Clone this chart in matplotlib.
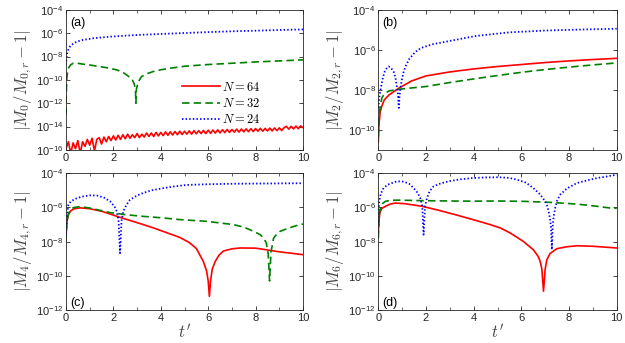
import numpy as np
import matplotlib
matplotlib.use('Agg')
import matplotlib.pyplot as plt
from matplotlib.ticker import FixedLocator, MultipleLocator, FuncFormatter

plt.rcParams['font.family'] = ['Liberation Sans', 'DejaVu Sans']
plt.rcParams['mathtext.fontset'] = 'cm'

# --- data (values are log10 of the relative error) ---

# (a) moment 0
a_t64 = [0.0, 0.1, 0.2, 0.3, 0.4, 0.5, 0.6, 0.7, 0.8, 0.9,
         1.0, 1.1, 1.2, 1.3, 1.4, 1.5, 1.6, 1.7, 1.8, 1.9,
         2.0, 2.1, 2.2, 2.3, 2.4, 2.5, 2.6, 2.7, 2.8, 2.9,
         3.0, 3.1, 3.2, 3.3, 3.4, 3.5, 3.6, 3.7, 3.8, 3.9,
         4.0, 4.1, 4.2, 4.3, 4.4, 4.5, 4.6, 4.7, 4.8, 4.9,
         5.0, 5.1, 5.2, 5.3, 5.4, 5.5, 5.6, 5.7, 5.8, 5.9,
         6.0, 6.1, 6.2, 6.3, 6.4, 6.5, 6.6, 6.7, 6.8, 6.9,
         7.0, 7.1, 7.2, 7.3, 7.4, 7.5, 7.6, 7.7, 7.8, 7.9,
         8.0, 8.1, 8.2, 8.3, 8.4, 8.5, 8.6, 8.7, 8.8, 8.9,
         9.0, 9.1, 9.2, 9.3, 9.4, 9.5, 9.6, 9.7, 9.8, 9.9, 10.0]
a_n64 = [-15.9, -15.3, -16.3, -15.4, -15.9, -15.2, -16.3, -15.3, -15.7, -15.1,
         -15.6, -15.0, -16.1, -15.1, -14.95, -15.5, -14.9, -15.3, -14.85, -15.2,
         -14.8, -15.15, -14.75, -15.1, -14.7, -15.05, -14.65, -15.0, -14.7, -14.95,
         -14.6, -14.95, -14.65, -14.9, -14.55, -14.85, -14.55, -14.85, -14.5, -14.8,
         -14.5, -14.78, -14.45, -14.75, -14.45, -14.72, -14.42, -14.7, -14.4, -14.68,
         -14.4, -14.65, -14.37, -14.65, -14.35, -14.62, -14.35, -14.6, -14.33, -14.6,
         -14.31, -14.58, -14.3, -14.56, -14.28, -14.54, -14.27, -14.52, -14.25, -14.5,
         -14.25, -14.48, -14.22, -14.47, -14.21, -14.45, -14.2, -14.44, -14.18, -14.43,
         -14.17, -14.4, -14.15, -14.4, -14.15, -14.38, -14.13, -14.37, -14.12, -14.35,
         -14.11, -14.34, -14.1, -13.98, -14.22, -13.98, -14.2, -13.96, -14.18, -13.94, -14.1]
a_t32 = [0, 0.01, 0.03, 0.06, 0.1, 0.2, 0.31, 0.5, 0.73, 1.0, 1.43, 1.8, 2.14, 2.4, 2.56, 2.7,
         2.8, 2.88, 2.93, 2.95, 2.97, 3.02, 3.1, 3.19, 3.4, 3.68, 4.0, 4.39, 5, 6, 7, 8, 9, 10]
a_n32 = [-13.0, -11.3, -10.0, -9.4, -9.0, -8.7, -8.57, -8.58, -8.65, -8.72, -8.86, -8.98, -9.14,
         -9.35, -9.57, -9.8, -10.0, -10.35, -10.8, -12.0, -10.8, -10.4, -10.0, -9.71, -9.48,
         -9.28, -9.13, -9.0, -8.83, -8.68, -8.57, -8.46, -8.37, -8.28]
a_t24 = [0, 0.02, 0.05, 0.1, 0.17, 0.3, 0.45, 0.7, 1.15, 1.8, 2.56, 3.3, 4, 5, 6, 7, 8, 9, 10]
a_n24 = [-8.7, -8.1, -7.7, -7.4, -7.14, -6.9, -6.72, -6.58, -6.43, -6.3, -6.2, -6.12, -6.06,
         -5.98, -5.9, -5.83, -5.78, -5.72, -5.67]

# (b) moment 2
b_t64 = [0, 0.01, 0.03, 0.08, 0.15, 0.25, 0.45, 0.85, 1.4, 2, 3, 4, 5, 6, 7, 8, 9, 10]
b_n64 = [-10.6, -10.2, -9.7, -9.1, -8.8, -8.5, -8.25, -7.92, -7.55, -7.3, -7.1, -6.95, -6.83,
         -6.73, -6.63, -6.55, -6.48, -6.42]
b_t32 = [0, 0.01, 0.03, 0.08, 0.15, 0.25, 0.45, 0.85, 1.4, 2, 3, 4, 5, 6, 7, 8, 9, 10]
b_n32 = [-10.35, -10.0, -9.4, -8.8, -8.4, -8.2, -8.05, -7.97, -7.9, -7.83, -7.63, -7.45, -7.28,
         -7.12, -6.98, -6.86, -6.75, -6.65]
b_t24 = [0, 0.05, 0.13, 0.2, 0.27, 0.35, 0.43, 0.52, 0.64, 0.72, 0.79, 0.83, 0.86, 0.89, 0.93,
         0.97, 1.05, 1.13, 1.3, 1.55, 1.8, 2.26, 3.0, 4.1, 5.5, 7, 8.5, 10]
b_n24 = [-8.9, -8.3, -7.75, -7.35, -7.08, -6.92, -6.83, -6.88, -7.08, -7.4, -7.92, -8.3, -8.9,
         -8.3, -7.9, -7.6, -7.15, -6.85, -6.45, -6.1, -5.9, -5.72, -5.55, -5.3, -5.12, -5.03,
         -4.98, -4.94]

# (c) moment 4
c_t64 = [0, 0.03, 0.1, 0.2, 0.33, 0.59, 1.0, 1.5, 1.86, 2.28, 2.8, 3.26, 3.7, 4.2, 4.8, 5.2,
         5.5, 5.79, 5.93, 6.0, 6.05, 6.1, 6.17, 6.3, 6.45, 6.64, 7.0, 7.34, 8.0, 8.33, 9.03, 10]
c_n64 = [-7.8, -6.9, -6.42, -6.2, -6.08, -6.02, -6.07, -6.22, -6.38, -6.58, -6.8, -7.0, -7.2,
         -7.45, -7.75, -8.05, -8.4, -9.15, -9.7, -10.3, -11.2, -10.3, -9.6, -9.15, -8.8, -8.55,
         -8.42, -8.37, -8.38, -8.45, -8.6, -8.76]
c_t32 = [0, 0.03, 0.1, 0.2, 0.33, 0.59, 1.0, 1.86, 2.5, 3.26, 4.0, 4.81, 5.93, 7.06, 7.5, 7.76,
         8.0, 8.19, 8.35, 8.45, 8.53, 8.59, 8.65, 8.76, 8.9, 9.03, 9.4, 9.87, 10]
c_n32 = [-8.0, -7.0, -6.4, -6.1, -6.0, -5.95, -6.03, -6.3, -6.42, -6.52, -6.6, -6.71, -6.81,
         -7.0, -7.15, -7.3, -7.45, -7.59, -7.8, -8.08, -8.7, -10.3, -8.6, -7.79, -7.55, -7.4,
         -7.2, -7.0, -6.97]
c_t24 = [0, 0.03, 0.1, 0.2, 0.38, 0.65, 1.0, 1.3, 1.6, 1.86, 2.05, 2.14, 2.22, 2.28, 2.34, 2.42,
         2.55, 2.7, 3.0, 3.26, 3.6, 3.97, 4.5, 5.1, 6, 7, 8, 9, 10]
c_n24 = [-7.6, -6.6, -5.84, -5.65, -5.5, -5.37, -5.29, -5.3, -5.42, -5.64, -5.95, -6.22, -6.8,
         -8.67, -6.8, -6.22, -5.85, -5.55, -5.3, -5.15, -5.0, -4.9, -4.78, -4.68, -4.64, -4.61,
         -4.6, -4.59, -4.58]

# (d) moment 6
d_t64 = [0, 0.03, 0.06, 0.15, 0.3, 0.5, 0.71, 1.13, 1.83, 2.5, 3.23, 4.0, 4.69, 5.12, 5.53,
         6.08, 6.5, 6.7, 6.79, 6.86, 6.93, 7.0, 7.07, 7.2, 7.49, 7.9, 8.33, 9.0, 10]
d_n64 = [-7.4, -6.8, -6.32, -6.05, -5.93, -5.8, -5.74, -5.78, -5.93, -6.15, -6.42, -6.72, -7.0,
         -7.2, -7.49, -7.98, -8.47, -8.85, -9.15, -9.6, -10.9, -9.6, -9.06, -8.7, -8.41, -8.3,
         -8.24, -8.27, -8.37]
d_t32 = [0, 0.03, 0.06, 0.15, 0.3, 0.5, 0.86, 1.83, 3.0, 3.93, 4.97, 6.08, 7.2, 8.33, 9.0, 9.72, 10]
d_n32 = [-7.8, -6.8, -6.22, -5.8, -5.64, -5.58, -5.57, -5.6, -5.62, -5.63, -5.62, -5.64, -5.7,
         -5.8, -5.9, -6.03, -6.05]
d_t24 = [0, 0.02, 0.04, 0.1, 0.22, 0.4, 0.57, 0.78, 1.0, 1.13, 1.3, 1.48, 1.65, 1.76, 1.84, 1.9,
         1.96, 2.04, 2.15, 2.32, 2.6, 2.95, 3.4, 3.93, 4.5, 5.05, 5.5, 5.81, 6.2, 6.5, 6.8, 7.0,
         7.1, 7.2, 7.25, 7.28, 7.32, 7.36, 7.42, 7.5, 7.63, 7.9, 8.33, 8.8, 9.17, 9.6, 10]
d_n24 = [-6.8, -6.1, -5.64, -5.2, -4.86, -4.66, -4.57, -4.47, -4.48, -4.52, -4.62, -4.86, -5.15,
         -5.45, -5.9, -7.59, -5.9, -5.45, -5.05, -4.76, -4.6, -4.47, -4.36, -4.28, -4.24, -4.23,
         -4.27, -4.37, -4.55, -4.86, -5.25, -5.64, -5.95, -6.62, -7.2, -8.47, -7.0, -6.5, -6.03,
         -5.6, -5.25, -4.9, -4.57, -4.4, -4.28, -4.18, -4.08]

panel_tags = ['(a)', '(b)', '(c)', '(d)']
moment_idx = [0, 2, 4, 6]
ylims = [(1e-16, 1e-4), (1e-11, 1e-4), (1e-12, 1e-4), (1e-12, 1e-4)]
yticks = [[-16, -14, -12, -10, -8, -6, -4], [-10, -8, -6, -4], [-12, -10, -8, -6, -4],
          [-12, -10, -8, -6, -4]]
series = [
    [(a_t64, a_n64), (a_t32, a_n32), (a_t24, a_n24)],
    [(b_t64, b_n64), (b_t32, b_n32), (b_t24, b_n24)],
    [(c_t64, c_n64), (c_t32, c_n32), (c_t24, c_n24)],
    [(d_t64, d_n64), (d_t32, d_n32), (d_t24, d_n24)],
]
N_labels = ['$N=64$', '$N=32$', '$N=24$']

axcol = '#262626'
styles = [dict(color='#ff0000', lw=1.2, ls='-'),
          dict(color='#008000', lw=1.2, ls=(0, (4.5, 2.5))),
          dict(color='#0000ff', lw=1.3, ls=(0, (0.8, 1.2)))]

# axes rectangles in figure fraction
rects = [[0.1056, 0.563, 0.3792, 0.408],
         [0.6053, 0.563, 0.3814, 0.408],
         [0.1056, 0.0962, 0.3792, 0.3985],
         [0.6053, 0.0962, 0.3814, 0.3985]]

fig = plt.figure(figsize=(6.25, 3.43), dpi=100)

def log_fmt(v, pos):
    return r'$\mathregular{10^{%d}}$' % int(round(np.log10(v)))

for k in range(4):
    ax = fig.add_axes(rects[k])
    for (t, v), st, lab in zip(series[k], styles, N_labels):
        ax.semilogy(t, 10.0 ** np.array(v), label=lab, **st)
    ax.set_xlim(0, 10)
    ax.set_ylim(*ylims[k])
    ax.xaxis.set_major_locator(MultipleLocator(2))
    ax.xaxis.set_minor_locator(MultipleLocator(1))
    ax.yaxis.set_major_locator(FixedLocator([10.0 ** e for e in yticks[k]]))
    ax.yaxis.set_minor_locator(FixedLocator([]))
    ax.yaxis.set_major_formatter(FuncFormatter(log_fmt))
    ax.tick_params(which='both', direction='in', top=True, right=True, colors=axcol,
                   labelsize=8, pad=2)
    ax.tick_params(which='major', length=3, width=0.6)
    ax.tick_params(which='minor', length=2, width=0.5)
    for sp in ax.spines.values():
        sp.set_color(axcol)
        sp.set_linewidth(0.6)
    m = moment_idx[k]
    ax.set_ylabel(r'$|M_{%d}/M_{%d,r}-1|$' % (m, m), fontsize=12, color='#404040')
    ax.yaxis.set_label_coords(-0.135, 0.5)
    if k >= 2:
        ax.set_xlabel(r"$t'$", fontsize=12, color='#404040', labelpad=0)
        ax.text(0.017, 0.05, panel_tags[k], transform=ax.transAxes, fontsize=9,
                ha='left', va='center', color='black')
    else:
        ax.text(0.017, 0.907, panel_tags[k], transform=ax.transAxes, fontsize=9,
                ha='left', va='center', color='black')
    if k == 0:
        ax.legend(loc='center left', bbox_to_anchor=(0.49, 0.331), frameon=False,
                  fontsize=9, handlelength=3.0, handletextpad=0.2, labelspacing=0.27,
                  borderpad=0, borderaxespad=0)

fig.savefig('out.png', dpi=100)
